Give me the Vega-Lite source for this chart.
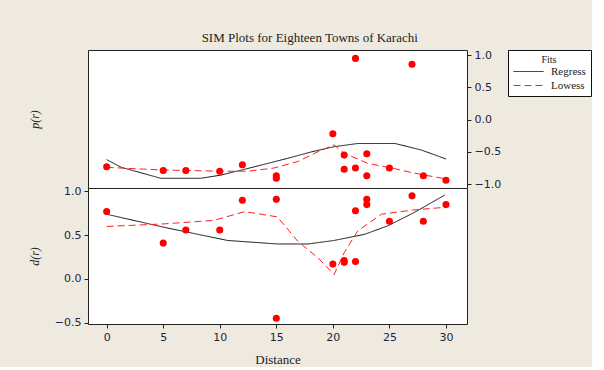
{
  "$schema": "https://vega.github.io/schema/vega-lite/v6.json",
  "background": "#EEEAE0",
  "padding": {"left": 27, "top": 31, "right": 0, "bottom": 0},
  "bounds": "flush",
  "spacing": 0,
  "title": {"text": "SIM Plots for Eighteen Towns of Karachi", "font": "Liberation Serif", "fontSize": 13, "fontWeight": "normal", "color": "#222", "offset": 4, "anchor": "middle"},
  "datasets": {
    "pts": [
      {"distance": 0, "p": -0.73, "d": 0.77},
      {"distance": 5, "p": -0.79, "d": 0.41},
      {"distance": 7, "p": -0.79, "d": 0.56},
      {"distance": 10, "p": -0.80, "d": 0.56},
      {"distance": 12, "p": -0.70, "d": 0.90},
      {"distance": 15, "p": -0.87, "d": 0.91},
      {"distance": 15, "p": -0.91, "d": -0.45},
      {"distance": 20, "p": -0.22, "d": 0.17},
      {"distance": 21, "p": -0.55, "d": 0.19},
      {"distance": 21, "p": -0.77, "d": 0.21},
      {"distance": 22, "p": 0.95, "d": 0.78},
      {"distance": 22, "p": -0.75, "d": 0.20},
      {"distance": 23, "p": -0.53, "d": 0.91},
      {"distance": 23, "p": -0.87, "d": 0.85},
      {"distance": 25, "p": -0.75, "d": 0.66},
      {"distance": 27, "p": 0.86, "d": 0.95},
      {"distance": 28, "p": -0.87, "d": 0.66},
      {"distance": 30, "p": -0.94, "d": 0.85}
    ],
    "fitsP": [
      {"fit": "Regress", "distance": 0, "value": -0.62},
      {"fit": "Regress", "distance": 1.3, "value": -0.74},
      {"fit": "Regress", "distance": 4.8, "value": -0.91},
      {"fit": "Regress", "distance": 8.3, "value": -0.91},
      {"fit": "Regress", "distance": 10.1, "value": -0.86},
      {"fit": "Regress", "distance": 13.1, "value": -0.73},
      {"fit": "Regress", "distance": 16, "value": -0.60},
      {"fit": "Regress", "distance": 18.1, "value": -0.50},
      {"fit": "Regress", "distance": 20.1, "value": -0.42},
      {"fit": "Regress", "distance": 22.2, "value": -0.37},
      {"fit": "Regress", "distance": 25.5, "value": -0.37},
      {"fit": "Regress", "distance": 27.8, "value": -0.47},
      {"fit": "Regress", "distance": 30, "value": -0.61},
      {"fit": "Lowess", "distance": 0, "value": -0.74},
      {"fit": "Lowess", "distance": 4.8, "value": -0.78},
      {"fit": "Lowess", "distance": 10.1, "value": -0.80},
      {"fit": "Lowess", "distance": 12.5, "value": -0.80},
      {"fit": "Lowess", "distance": 14.8, "value": -0.75},
      {"fit": "Lowess", "distance": 16.9, "value": -0.65},
      {"fit": "Lowess", "distance": 18.4, "value": -0.52},
      {"fit": "Lowess", "distance": 20.1, "value": -0.39},
      {"fit": "Lowess", "distance": 21, "value": -0.52},
      {"fit": "Lowess", "distance": 23.1, "value": -0.68},
      {"fit": "Lowess", "distance": 25.2, "value": -0.75},
      {"fit": "Lowess", "distance": 27.2, "value": -0.83},
      {"fit": "Lowess", "distance": 30, "value": -0.92}
    ],
    "fitsD": [
      {"fit": "Regress", "distance": 0, "value": 0.74},
      {"fit": "Regress", "distance": 5.1, "value": 0.59},
      {"fit": "Regress", "distance": 10.7, "value": 0.44},
      {"fit": "Regress", "distance": 15.1, "value": 0.40},
      {"fit": "Regress", "distance": 17.8, "value": 0.40},
      {"fit": "Regress", "distance": 20.1, "value": 0.44},
      {"fit": "Regress", "distance": 22.8, "value": 0.51},
      {"fit": "Regress", "distance": 24.9, "value": 0.61},
      {"fit": "Regress", "distance": 27.2, "value": 0.76},
      {"fit": "Regress", "distance": 29.9, "value": 0.96},
      {"fit": "Lowess", "distance": 0, "value": 0.60},
      {"fit": "Lowess", "distance": 5.1, "value": 0.63},
      {"fit": "Lowess", "distance": 9.5, "value": 0.67},
      {"fit": "Lowess", "distance": 12.2, "value": 0.77},
      {"fit": "Lowess", "distance": 15.1, "value": 0.71},
      {"fit": "Lowess", "distance": 16.9, "value": 0.43},
      {"fit": "Lowess", "distance": 18.7, "value": 0.24},
      {"fit": "Lowess", "distance": 20.1, "value": 0.05},
      {"fit": "Lowess", "distance": 21, "value": 0.30},
      {"fit": "Lowess", "distance": 22.2, "value": 0.55},
      {"fit": "Lowess", "distance": 24.3, "value": 0.74},
      {"fit": "Lowess", "distance": 27.2, "value": 0.79},
      {"fit": "Lowess", "distance": 30, "value": 0.82}
    ]
  },
  "resolve": {"legend": {"color": "independent", "strokeDash": "independent"}},
  "vconcat": [
    {
      "width": 379,
      "height": 138,
      "layer": [
        {
          "data": {"name": "fitsP"},
          "mark": {"type": "line", "strokeWidth": 1, "clip": true},
          "encoding": {
            "x": {"field": "distance", "type": "quantitative", "scale": {"domain": [-1.65, 31.86], "nice": false, "zero": false}, "axis": null},
            "y": {"field": "value", "type": "quantitative", "scale": {"domain": [-1.06, 1.08], "nice": false, "zero": false},
                  "axis": {"orient": "right", "title": "p(r)", "values": [-1, -0.5, 0, 0.5, 1], "format": ".1f", "labelOverlap": false, "labelFlush": false, "titleX": -433, "titleY": 69, "titleAngle": 270, "titleAlign": "center", "titleBaseline": "middle"}},
            "color": {"field": "fit", "type": "nominal", "scale": {"domain": ["Regress", "Lowess"], "range": ["#111111", "#ff2020"]},
                      "legend": {"orient": "none", "legendX": 420, "legendY": 0, "title": "Fits", "titleAnchor": "middle"}},
            "strokeDash": {"field": "fit", "type": "nominal", "scale": {"domain": ["Regress", "Lowess"], "range": [[1, 0], [7, 4]]},
                      "legend": {"orient": "none", "legendX": 420, "legendY": 0, "title": "Fits", "titleAnchor": "middle"}}
          }
        },
        {
          "data": {"name": "pts"},
          "mark": {"type": "circle", "color": "#ff0000", "opacity": 1, "size": 50},
          "encoding": {
            "x": {"field": "distance", "type": "quantitative"},
            "y": {"field": "p", "type": "quantitative",
                  "axis": {"orient": "right", "title": "p(r)", "values": [-1, -0.5, 0, 0.5, 1], "format": ".1f", "labelOverlap": false, "labelFlush": false, "titleX": -433, "titleY": 69, "titleAngle": 270, "titleAlign": "center", "titleBaseline": "middle"}}
          }
        }
      ]
    },
    {
      "width": 379,
      "height": 136,
      "layer": [
        {
          "data": {"name": "fitsD"},
          "mark": {"type": "line", "strokeWidth": 1, "clip": true},
          "encoding": {
            "x": {"field": "distance", "type": "quantitative", "scale": {"domain": [-1.65, 31.86], "nice": false, "zero": false},
                  "axis": {"title": "Distance", "values": [0, 5, 10, 15, 20, 25, 30], "titlePadding": 11, "titleFontStyle": "normal", "titleFontSize": 13}},
            "y": {"field": "value", "type": "quantitative", "scale": {"domain": [-0.515, 1.04], "nice": false, "zero": false},
                  "axis": {"orient": "left", "title": "d(r)", "values": [-0.5, 0, 0.5, 1], "format": ".1f", "titleX": -54, "titleAngle": 270, "titleAlign": "center", "titleBaseline": "middle"}},
            "color": {"field": "fit", "type": "nominal", "scale": {"domain": ["Regress", "Lowess"], "range": ["#111111", "#ff2020"]}, "legend": null},
            "strokeDash": {"field": "fit", "type": "nominal", "scale": {"domain": ["Regress", "Lowess"], "range": [[1, 0], [7, 4]]}, "legend": null}
          }
        },
        {
          "data": {"name": "pts"},
          "mark": {"type": "circle", "color": "#ff0000", "opacity": 1, "size": 50},
          "encoding": {
            "x": {"field": "distance", "type": "quantitative"},
            "y": {"field": "d", "type": "quantitative"}
          }
        }
      ]
    }
  ],
  "config": {
    "view": {"stroke": "#222222", "strokeWidth": 1, "fill": "white"},
    "axis": {
      "grid": false,
      "domain": false,
      "ticks": true,
      "tickColor": "#222",
      "tickSize": 4,
      "labelFont": "DejaVu Sans",
      "labelFontSize": 11,
      "labelColor": "#1e2440",
      "labelPadding": 3,
      "labelOverlap": false,
      "labelFlush": false,
      "titleFont": "Liberation Serif",
      "titleFontSize": 12,
      "titleFontWeight": "normal",
      "titleFontStyle": "italic",
      "titleColor": "#222"
    },
    "legend": {
      "strokeColor": "#111",
      "fillColor": "white",
      "padding": 5,
      "symbolType": "M-1,0H5",
      "symbolSize": 100,
      "symbolStrokeWidth": 1,
      "symbolFillColor": "transparent",
      "labelFont": "Liberation Serif",
      "labelFontSize": 11,
      "labelColor": "#222",
      "labelOffset": 27,
      "titleFont": "Liberation Serif",
      "titleFontSize": 10,
      "titleFontWeight": "normal",
      "titleColor": "#222",
      "titlePadding": 1,
      "rowPadding": 2
    }
  }
}
